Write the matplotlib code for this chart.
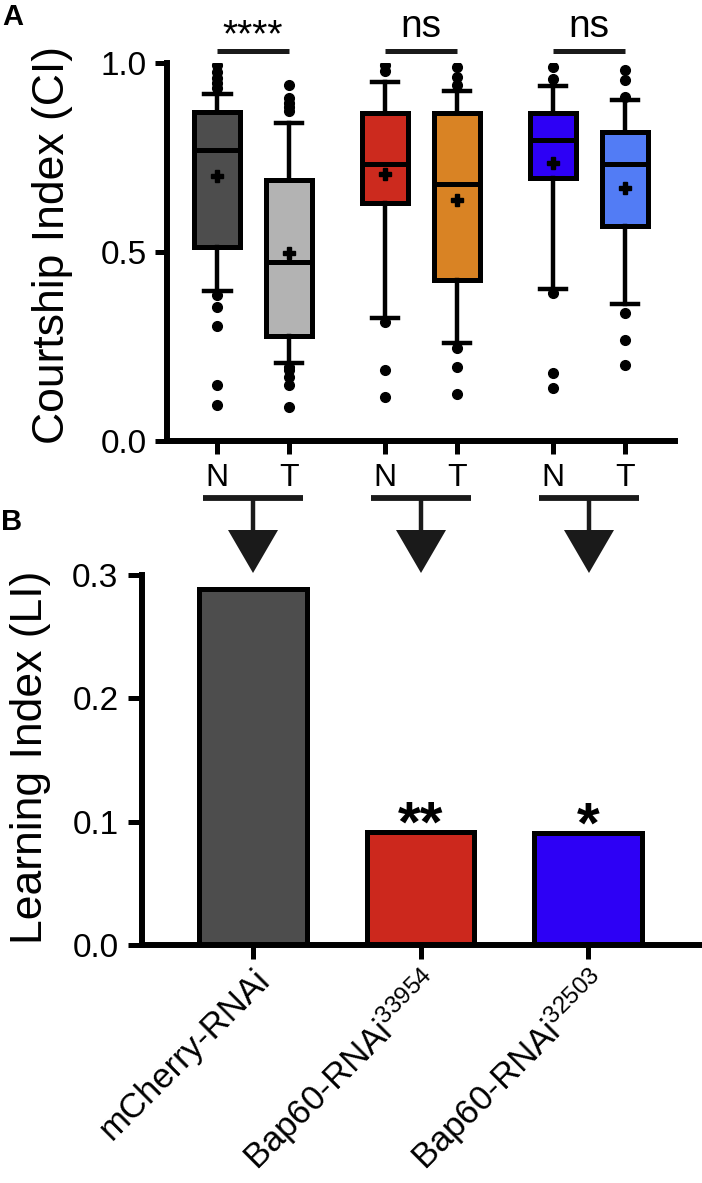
import matplotlib
matplotlib.use('Agg')
import matplotlib.pyplot as plt
from matplotlib.patches import Polygon

plt.rcParams['font.family'] = ['Liberation Sans', 'DejaVu Sans']
plt.rcParams['mathtext.fontset'] = 'custom'
plt.rcParams['mathtext.rm'] = 'Liberation Sans'
plt.rcParams['mathtext.it'] = 'Liberation Sans:italic'
plt.rcParams['mathtext.bf'] = 'Liberation Sans:bold'

# ---------------- data ----------------
genotypes = ['mCherry-RNAi',
             'Bap60-RNAi$^{\\mathregular{33954}}$',
             'Bap60-RNAi$^{\\mathregular{32503}}$']
conditions = ['N', 'T']

# Courtship index box statistics (order: N, T for each genotype)
ci_q1 = [0.513, 0.278, 0.630, 0.426, 0.695, 0.569]
ci_median = [0.770, 0.474, 0.733, 0.680, 0.796, 0.733]
ci_q3 = [0.870, 0.690, 0.868, 0.868, 0.868, 0.818]
ci_whislo = [0.397, 0.206, 0.326, 0.259, 0.402, 0.362]
ci_whishi = [0.918, 0.840, 0.950, 0.926, 0.939, 0.902]
ci_mean = [0.700, 0.497, 0.706, 0.638, 0.736, 0.669]
ci_fliers = [
    [0.995, 0.976, 0.960, 0.947, 0.934, 0.385, 0.355, 0.305, 0.148, 0.095],
    [0.942, 0.907, 0.894, 0.884, 0.872, 0.196, 0.188, 0.170, 0.148, 0.090],
    [0.995, 0.980, 0.315, 0.188, 0.117],
    [0.990, 0.964, 0.942, 0.246, 0.196, 0.124],
    [0.990, 0.957, 0.392, 0.180, 0.140],
    [0.981, 0.955, 0.910, 0.338, 0.267, 0.201],
]
ci_sig = ['****', 'ns', 'ns']

# Learning index
li_values = [0.289, 0.092, 0.091]
li_sig = ['', '**', '*']

box_colors = ['#4d4d4d', '#b3b3b3', '#cc2a1e', '#d98324', '#2d00f5', '#527cf5']
bar_colors = ['#4d4d4d', '#cc281d', '#2d00f5']

# ---------------- layout ----------------
W, H = 702, 1183
fig = plt.figure(figsize=(W / 100, H / 100), dpi=100)


def fx(px):
    return px / W


def fy(py):
    return 1 - py / H


ax1 = fig.add_axes([fx(167), fy(441), (675 - 167) / W, (441 - 63) / H])
ax2 = fig.add_axes([fx(142), fy(945), (702 - 142) / W, (945 - 575) / H])

SPINE_LW = 4.3
EDGE_LW = 3.6

# ---------------- panel A ----------------
offset = 0.214
positions, stats, tick_labels = [], [], []
for g in range(len(genotypes)):
    for c, cond in enumerate(conditions):
        i = 2 * g + c
        positions.append(g + (2 * c - 1) * offset)
        tick_labels.append(cond)
        stats.append(dict(med=ci_median[i], q1=ci_q1[i], q3=ci_q3[i],
                          whislo=ci_whislo[i], whishi=ci_whishi[i],
                          mean=ci_mean[i], fliers=ci_fliers[i]))

bp = ax1.bxp(stats, positions=positions, widths=0.27, capwidths=0.16,
             showmeans=True, patch_artist=True,
             boxprops=dict(linewidth=EDGE_LW, edgecolor='black'),
             whiskerprops=dict(linewidth=3.2, color='black'),
             capprops=dict(linewidth=3.2, color='black'),
             medianprops=dict(linewidth=EDGE_LW, color='black'),
             meanprops=dict(marker='P', markerfacecolor='black',
                            markeredgecolor='black', markersize=9),
             flierprops=dict(marker='o', markerfacecolor='black',
                             markeredgecolor='black', markersize=7))
for patch, col in zip(bp['boxes'], box_colors):
    patch.set_facecolor(col)

ax1.set_xlim(-0.512, 2.512)
ax1.set_ylim(0, 1.0)
ax1.set_yticks([0, 0.5, 1.0])
ax1.set_yticklabels(['0.0', '0.5', '1.0'])
ax1.set_xticks(positions)
ax1.set_xticklabels(tick_labels)
ax1.tick_params(axis='y', length=9, width=EDGE_LW, labelsize=24, pad=5.5)
ax1.tick_params(axis='x', length=9, width=EDGE_LW, labelsize=23, pad=7)
for s in ['top', 'right']:
    ax1.spines[s].set_visible(False)
for s in ['left', 'bottom']:
    ax1.spines[s].set_linewidth(SPINE_LW)
ax1.set_ylabel('Courtship Index (CI)', fontsize=32, va='center')
ax1.yaxis.set_label_coords((53 - 167) / 508, (441 - 245) / 378)

for g, lab in enumerate(ci_sig):
    ax1.plot([g - offset, g + offset], [1.032, 1.032], color='#1a1a1a',
             lw=EDGE_LW, solid_capstyle='butt', clip_on=False)
    if lab.startswith('*'):
        ax1.text(g, 1.043, lab, ha='center', va='baseline', fontsize=28,
                 clip_on=False)
    else:
        ax1.text(g, 1.069, lab, ha='center', va='baseline', fontsize=28,
                 clip_on=False)

# ---------------- panel B ----------------
xb = list(range(len(genotypes)))
ax2.bar(xb, li_values, width=0.64, color=bar_colors, edgecolor='black',
        linewidth=EDGE_LW, zorder=2)
ax2.set_xlim(-0.663, 2.68)
ax2.set_ylim(0, 0.3)
ax2.set_yticks([0, 0.1, 0.2, 0.3])
ax2.set_yticklabels(['0.0', '0.1', '0.2', '0.3'])
ax2.set_xticks(xb)
ax2.set_xticklabels(genotypes, rotation=45, ha='right',
                    rotation_mode='anchor', fontsize=25)
ax2.tick_params(axis='y', length=10, width=EDGE_LW, labelsize=24, pad=7)
ax2.tick_params(axis='x', length=10, width=EDGE_LW, pad=3)
for s in ['top', 'right']:
    ax2.spines[s].set_visible(False)
for s in ['left', 'bottom']:
    ax2.spines[s].set_linewidth(SPINE_LW)
ax2.set_ylabel('Learning Index (LI)', fontsize=32, va='center')
ax2.yaxis.set_label_coords((31 - 142) / 560, (945 - 757) / 370)

for g, lab in enumerate(li_sig):
    if lab:
        ax2.text(g, li_values[g] - 0.008, lab, ha='center', va='baseline',
                 fontsize=42, fontweight='bold', zorder=5)

# ---------------- connecting arrows ----------------
ov = fig.add_axes([0, 0, 1, 1], zorder=-1)
ov.set_xlim(0, W)
ov.set_ylim(H, 0)
ov.axis('off')
dark = '#1a1a1a'
for g in range(len(genotypes)):
    px = ax1.transData.transform((g, 0))[0]
    ov.plot([px - 50, px + 50], [498, 498], color=dark, lw=4.2,
            solid_capstyle='butt')
    ov.plot([px, px], [498, 531], color=dark, lw=3.2, solid_capstyle='butt')
    ov.add_patch(Polygon([(px - 25, 530), (px + 25, 530), (px, 573)],
                         closed=True, facecolor=dark, edgecolor='none'))

fig.text(fx(2), fy(3), 'A', fontsize=21, fontweight='bold', ha='left', va='top')
fig.text(fx(1), fy(508), 'B', fontsize=21, fontweight='bold', ha='left', va='top')

fig.savefig('out.png', dpi=100)
